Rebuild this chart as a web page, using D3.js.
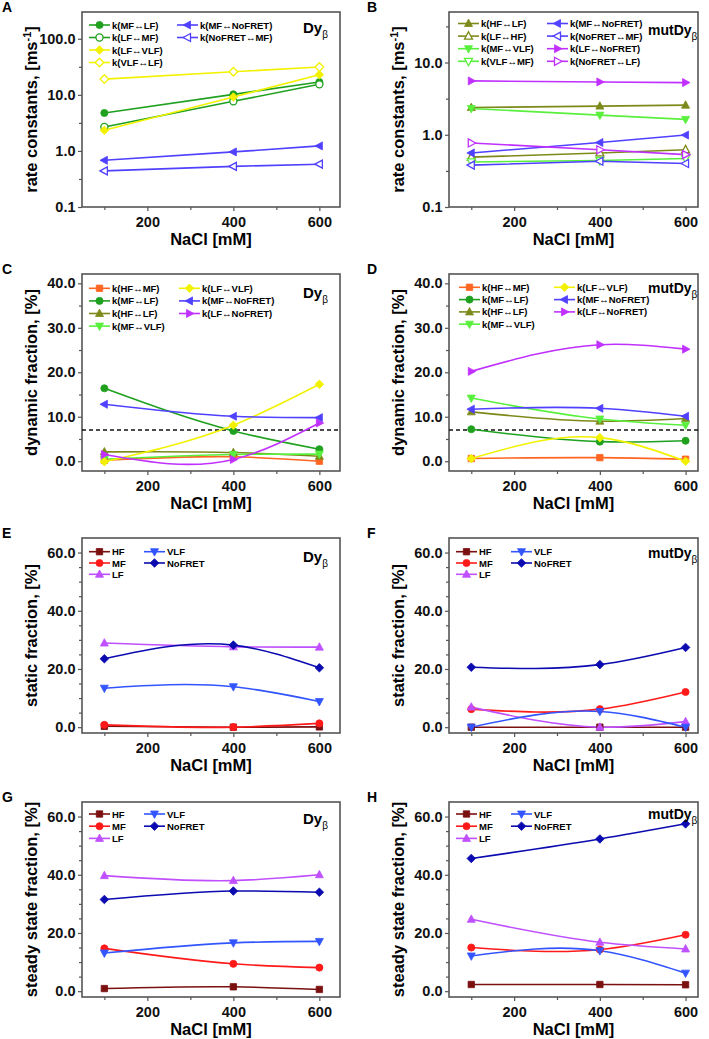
<!DOCTYPE html>
<html>
<head>
<meta charset="utf-8">
<script src="https://cdn.jsdelivr.net/npm/d3@7"></script>
<style>
  body { margin: 0; background: #fff; }
  svg { display: block; font-family: "Liberation Sans", Arial, sans-serif; }
</style>
</head>
<body>
<svg id="chart" width="709" height="1039"></svg>
<script>
// NaCl concentrations (x values) for every series
const nacl = [100, 400, 600];
// FRET states, high to low
const states = ["HF", "MF", "LF", "VLF", "NoFRET"];

// A: rate constants, Dy-beta [ms^-1]
const rateDy = [
  ["MF↔LF", [4.75, 10.2, 16.9]],
  ["LF↔MF", [2.67, 7.66, 15.4]],
  ["LF↔VLF", [2.33, 9.15, 22.9]],
  ["VLF↔LF", [19.1, 25.8, 31.3]],
  ["MF↔NoFRET", [0.68, 0.96, 1.23]],
  ["NoFRET↔MF", [0.44, 0.53, 0.58]]
];

// B: rate constants, mutDy-beta [ms^-1]
const rateMut = [
  ["HF↔LF", [2.38, 2.49, 2.57]],
  ["LF↔HF", [0.49, 0.56, 0.62]],
  ["MF↔VLF", [2.31, 1.87, 1.63]],
  ["VLF↔MF", [0.42, 0.44, 0.47]],
  ["MF↔NoFRET", [0.56, 0.78, 0.99]],
  ["NoFRET↔MF", [0.38, 0.43, 0.40]],
  ["LF↔NoFRET", [5.56, 5.38, 5.27]],
  ["NoFRET↔LF", [0.77, 0.62, 0.53]]
];

// C: dynamic fraction, Dy-beta [%]
const dynDy = [
  ["HF↔MF", [0.2, 1.0, 0.0]],
  ["MF↔LF", [16.4, 6.8, 2.7]],
  ["HF↔LF", [2.1, 1.95, 1.1]],
  ["MF↔VLF", [0.45, 1.5, 1.6]],
  ["LF↔VLF", [-0.1, 8.1, 17.3]],
  ["MF↔NoFRET", [12.8, 10.1, 9.8]],
  ["LF↔NoFRET", [1.5, 0.4, 8.6]]
];

// D: dynamic fraction, mutDy-beta [%]
const dynMut = [
  ["HF↔MF", [0.6, 0.8, 0.45]],
  ["MF↔LF", [7.2, 4.4, 4.6]],
  ["HF↔LF", [11.1, 9.0, 9.6]],
  ["MF↔VLF", [14.2, 9.5, 8.1]],
  ["LF↔VLF", [0.6, 5.3, 0.0]],
  ["MF↔NoFRET", [11.7, 11.9, 10.1]],
  ["LF↔NoFRET", [20.2, 26.2, 25.2]]
];

// threshold drawn as dashed line in C and D [%]
const dynThreshold = 7;

// E: static fraction, Dy-beta [%]
const staticDy = [
  ["HF", [0.3, 0.0, 0.1]],
  ["MF", [0.8, 0.0, 1.3]],
  ["LF", [28.9, 27.6, 27.5]],
  ["VLF", [13.4, 13.9, 8.8]],
  ["NoFRET", [23.5, 28.2, 20.4]]
];

// F: static fraction, mutDy-beta [%]
const staticMut = [
  ["HF", [0.0, 0.0, 0.0]],
  ["MF", [6.2, 6.2, 12.1]],
  ["LF", [6.9, 0.0, 1.9]],
  ["VLF", [0.0, 5.4, 0.0]],
  ["NoFRET", [20.6, 21.5, 27.4]]
];

// G: steady state fraction, Dy-beta [%]
const steadyDy = [
  ["HF", [0.9, 1.5, 0.6]],
  ["MF", [14.7, 9.4, 8.1]],
  ["LF", [39.7, 38.0, 40.0]],
  ["VLF", [13.1, 16.6, 17.1]],
  ["NoFRET", [31.5, 34.4, 34.0]]
];

// H: steady state fraction, mutDy-beta [%]
const steadyMut = [
  ["HF", [2.3, 2.3, 2.2]],
  ["MF", [15.0, 14.3, 19.4]],
  ["LF", [24.7, 16.8, 14.5]],
  ["VLF", [12.1, 13.9, 6.2]],
  ["NoFRET", [45.6, 52.3, 57.5]]
];

// styles
const transStyle = {
  "HF↔MF": ["#ff6622", "square"],
  "MF↔LF": ["#1fa11f", "circle"],
  "HF↔LF": ["#7d8a1a", "up"],
  "MF↔VLF": ["#58f03c", "down"],
  "LF↔VLF": ["#f2f200", "diamond"],
  "MF↔NoFRET": ["#5040ff", "left"],
  "LF↔NoFRET": ["#c030ff", "right"]
};
const stateStyle = {
  HF: ["#7b1010", "square"],
  MF: ["#ff1a1a", "circle"],
  LF: ["#c050ff", "up"],
  VLF: ["#3355ff", "down"],
  NoFRET: ["#0a0ab0", "diamond"]
};

function styleOf(label) {
  const parts = label.split("↔");
  if (parts.length === 1) {
    const [color, shape] = stateStyle[label];
    return { color, shape, open: false };
  }
  const [a, b] = parts;
  const ia = states.indexOf(a), ib = states.indexOf(b);
  const key = ia < ib ? a + "↔" + b : b + "↔" + a;
  const [color, shape] = transStyle[key];
  return { color, shape, open: ia > ib };
}

// natural cubic spline y(x) as a d3 curve (each segment is an exact cubic bezier)
function splineSlopes(xs, ys) {
  const n = xs.length;
  const h = d3.range(n - 1).map(i => xs[i + 1] - xs[i]);
  const M = new Array(n).fill(0);
  const a = [], b = [], c = [], r = [];
  for (let i = 1; i < n - 1; i++) {
    a.push(h[i - 1]); b.push(2 * (h[i - 1] + h[i])); c.push(h[i]);
    r.push(6 * ((ys[i + 1] - ys[i]) / h[i] - (ys[i] - ys[i - 1]) / h[i - 1]));
  }
  const k = r.length;
  for (let i = 1; i < k; i++) {
    const w = a[i] / b[i - 1];
    b[i] -= w * c[i - 1];
    r[i] -= w * r[i - 1];
  }
  for (let i = k - 1; i >= 0; i--) {
    M[i + 1] = (r[i] - (i < k - 1 ? c[i] * M[i + 2] : 0)) / b[i];
  }
  const m = [];
  for (let i = 0; i < n - 1; i++) {
    m.push((ys[i + 1] - ys[i]) / h[i] - h[i] * (2 * M[i] + M[i + 1]) / 6);
  }
  m.push((ys[n - 1] - ys[n - 2]) / h[n - 2] + h[n - 2] * (M[n - 2] + 2 * M[n - 1]) / 6);
  return m;
}

class NaturalX {
  constructor(context) { this._context = context; }
  areaStart() {}
  areaEnd() {}
  lineStart() { this._x = []; this._y = []; }
  point(x, y) { this._x.push(+x); this._y.push(+y); }
  lineEnd() {
    const xs = this._x, ys = this._y, n = xs.length, ctx = this._context;
    if (!n) return;
    ctx.moveTo(xs[0], ys[0]);
    if (n === 2) { ctx.lineTo(xs[1], ys[1]); return; }
    const m = splineSlopes(xs, ys);
    for (let i = 0; i < n - 1; i++) {
      const hh = xs[i + 1] - xs[i];
      ctx.bezierCurveTo(xs[i] + hh / 3, ys[i] + m[i] * hh / 3,
        xs[i + 1] - hh / 3, ys[i + 1] - m[i + 1] * hh / 3, xs[i + 1], ys[i + 1]);
    }
  }
}
const curveNaturalX = context => new NaturalX(context);

function markerPath(shape) {
  switch (shape) {
    case "circle": return d3.symbol(d3.symbolCircle, 40)();
    case "square": return "M-3.2,-3.2H3.2V3.2H-3.2Z";
    case "diamond": return "M0,-4.3L4.3,0L0,4.3L-4.3,0Z";
    case "up": return "M0,-4.4L4,3L-4,3Z";
    case "down": return "M0,4.4L4,-3L-4,-3Z";
    case "left": return "M-4.4,0L3,-4L3,4Z";
    case "right": return "M4.4,0L-3,-4L-3,4Z";
  }
}

function drawMarker(g, x, y, st) {
  g.append("path")
    .attr("d", markerPath(st.shape))
    .attr("transform", `translate(${x},${y})`)
    .attr("fill", st.open ? "#fff" : st.color)
    .attr("stroke", st.color)
    .attr("stroke-width", st.open ? 1.3 : 0.8);
}

const svg = d3.select("#chart");
const fmt = d3.format(".1f");

const cols = [
  { x0: 82, x1: 340, dom: [48, 648] },
  { x0: 449, x1: 698, dom: [48, 629] }
];
const rows = [[12, 207], [274, 471], [538, 733], [802, 997]];
const yTitles = ["rate constants, [ms", "dynamic fraction, [%]", "static fraction, [%]", "steady state fraction, [%]"];

const panels = [
  { letter: "A", col: 0, row: 0, data: rateDy, log: true, yDom: [0.1, 300], tag: "Dy", tagY: 21, leg: [7, 95, 13, 12.5, 4] },
  { letter: "B", col: 1, row: 0, data: rateMut, log: true, yDom: [0.1, 50], tag: "mutDy", tagY: 23, leg: [9, 98, 11.5, 12.6, 4] },
  { letter: "C", col: 0, row: 1, data: dynDy, yDom: [-2.2, 42.1], step: 10, tag: "Dy", tagY: 24, leg: [7, 97, 14.3, 12.6, 4], dashed: true },
  { letter: "D", col: 1, row: 1, data: dynMut, yDom: [-2.2, 42.1], step: 10, tag: "mutDy", tagY: 19, leg: [10, 105, 13.3, 12.3, 4], dashed: true },
  { letter: "E", col: 0, row: 2, data: staticDy, yDom: [-2, 65], step: 20, tag: "Dy", tagY: 24, leg: [7, 62, 13.7, 11.3, 3] },
  { letter: "F", col: 1, row: 2, data: staticMut, yDom: [-2, 65], step: 20, tag: "mutDy", tagY: 20, leg: [7, 62, 13.7, 11.3, 3] },
  { letter: "G", col: 0, row: 3, data: steadyDy, yDom: [-2, 65], step: 20, tag: "Dy", tagY: 21.5, leg: [7, 62, 12, 12.2, 3] },
  { letter: "H", col: 1, row: 3, data: steadyMut, yDom: [-2, 65], step: 20, tag: "mutDy", tagY: 17, leg: [7, 62, 12, 12.2, 3] }
];

panels.forEach(p => {
  const c = cols[p.col];
  const [top, bottom] = rows[p.row];
  const x = d3.scaleLinear().domain(c.dom).range([c.x0, c.x1]);
  const y = (p.log ? d3.scaleLog() : d3.scaleLinear()).domain(p.yDom).range([bottom, top]);
  const g = svg.append("g");

  // panel letter
  g.append("text")
    .attr("x", p.col === 0 ? 2 : 367).attr("y", top)
    .attr("font-size", 14).attr("font-weight", "bold")
    .text(p.letter);

  // x axis
  g.append("g").attr("transform", `translate(0,${bottom})`)
    .call(d3.axisBottom(x).tickValues([200, 400, 600]).tickSize(4).tickPadding(6).tickFormat(d3.format("d")));
  g.append("g").attr("transform", `translate(0,${bottom})`)
    .call(d3.axisBottom(x).tickValues([100, 300, 500]).tickSize(3).tickFormat(""));

  // y axis
  let major, minor;
  if (p.log) {
    major = [0.1, 1, 10, 100].filter(v => v <= p.yDom[1]);
    minor = [-0.5, 0.5, 1.5, 2.5].map(e => Math.pow(10, e)).filter(v => v > p.yDom[0] && v < p.yDom[1]);
  } else {
    major = d3.range(0, p.yDom[1], p.step);
    minor = d3.range(0, p.yDom[1], 5).filter(v => v % p.step !== 0);
  }
  g.append("g").attr("transform", `translate(${c.x0},0)`)
    .call(d3.axisLeft(y).tickValues(major).tickSize(4).tickPadding(2.5).tickFormat(fmt));
  g.append("g").attr("transform", `translate(${c.x0},0)`)
    .call(d3.axisLeft(y).tickValues(minor).tickSize(3).tickFormat(""));

  g.selectAll(".domain").remove();
  g.selectAll(".tick line").attr("stroke", "#555").attr("stroke-width", 1.2);
  g.selectAll(".tick text").attr("font-size", 14.5).attr("font-weight", "bold")
    .attr("font-family", "Liberation Sans, Arial, sans-serif").attr("fill", "#111");

  // frame
  g.append("rect")
    .attr("x", c.x0).attr("y", top)
    .attr("width", c.x1 - c.x0).attr("height", bottom - top)
    .attr("fill", "none").attr("stroke", "#555").attr("stroke-width", 1.6);

  // axis titles
  g.append("text")
    .attr("x", (c.x0 + c.x1) / 2).attr("y", bottom + 38)
    .attr("text-anchor", "middle").attr("font-size", 16.5).attr("font-weight", "bold")
    .text("NaCl [mM]");
  const yt = g.append("text")
    .attr("transform", `translate(${c.x0 - 45},${(top + bottom) / 2}) rotate(-90)`)
    .attr("text-anchor", "middle").attr("font-size", 16.5).attr("font-weight", "bold");
  yt.append("tspan").text(yTitles[p.row]);
  if (p.row === 0) {
    yt.append("tspan").attr("dy", -6).attr("font-size", 11).text("-1");
    yt.append("tspan").attr("dy", 6).text("]");
  }

  // dashed threshold
  if (p.dashed) {
    g.append("line")
      .attr("x1", c.x0).attr("x2", c.x1)
      .attr("y1", y(dynThreshold)).attr("y2", y(dynThreshold))
      .attr("stroke", "#111").attr("stroke-width", 1.5).attr("stroke-dasharray", "4,3");
  }

  // series
  const line = d3.line()
    .x((d, i) => x(nacl[i]))
    .y(d => y(d))
    .curve(p.log ? d3.curveLinear : curveNaturalX);

  p.data.forEach(([label, values]) => {
    const st = styleOf(label);
    g.append("path")
      .attr("d", line(values))
      .attr("fill", "none").attr("stroke", st.color).attr("stroke-width", 1.6);
  });
  p.data.forEach(([label, values]) => {
    const st = styleOf(label);
    values.forEach((v, i) => drawMarker(g, x(nacl[i]), y(v), st));
  });

  // legend
  const [lx1, lx2, ly0, lstep, nFirst] = p.leg;
  p.data.forEach(([label], i) => {
    const st = styleOf(label);
    const colIdx = i < nFirst ? 0 : 1;
    const r = colIdx === 0 ? i : i - nFirst;
    const lx = c.x0 + (colIdx === 0 ? lx1 : lx2);
    const ly = top + ly0 + r * lstep;
    g.append("line")
      .attr("x1", lx).attr("x2", lx + 21).attr("y1", ly).attr("y2", ly)
      .attr("stroke", st.color).attr("stroke-width", 1.6);
    drawMarker(g, lx + 10.5, ly, st);
    const t = g.append("text")
      .attr("x", lx + 23).attr("y", ly + 3.5)
      .attr("font-size", 9.5).attr("font-weight", "bold");
    const parts = label.split("↔");
    if (parts.length === 1) {
      t.text(label);
    } else {
      t.append("tspan").text("k(" + parts[0]);
      t.append("tspan").attr("font-size", 9.5).attr("font-weight", "normal").text("↔");
      t.append("tspan").text(parts[1] + ")");
    }
  });

  // sample tag
  const tag = g.append("text")
    .attr("x", c.x1 - (p.tag === "Dy" ? 37 : 50)).attr("y", top + p.tagY)
    .attr("font-size", p.tag === "Dy" ? 15 : 14).attr("font-weight", "bold");
  tag.append("tspan").text(p.tag);
  tag.append("tspan").attr("dy", 5).attr("font-size", 10).attr("font-weight", "normal").text("β");
});
</script>
</body>
</html>
